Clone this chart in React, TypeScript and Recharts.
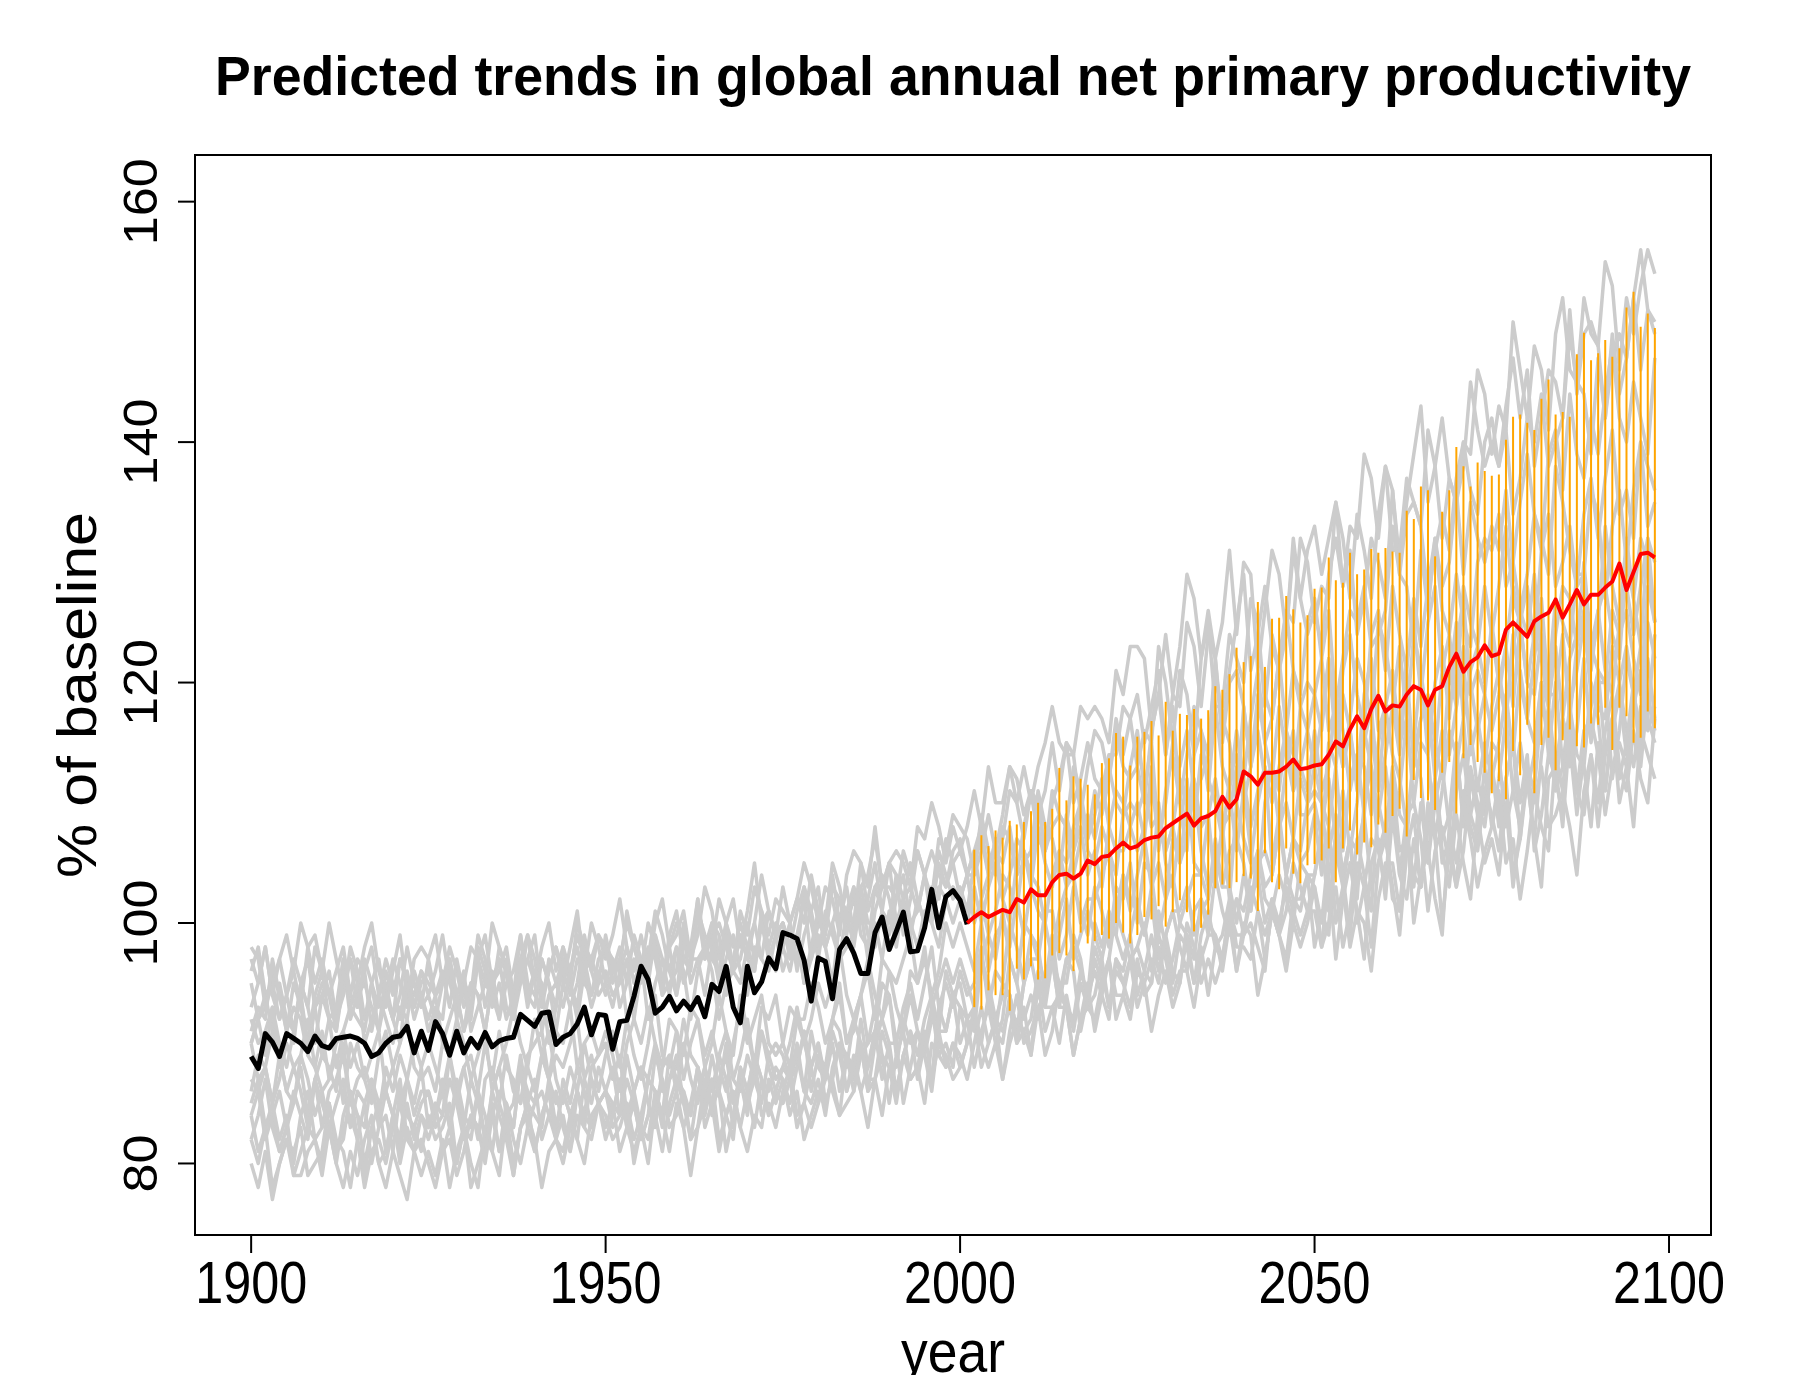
import React from 'react';
import { LineChart, Line, XAxis, YAxis, ErrorBar, ReferenceArea } from 'recharts';

// ---- data -----------------------------------------------------------------
const FIRST_YEAR = 1900;
const LAST_YEAR = 2098;
const xTicks = [1900, 1950, 2000, 2050, 2100];
const yTicks = [80, 100, 120, 140, 160];

// observed series, 1900-2001
const observed = [
  88.9, 87.9, 90.8, 90.1, 88.9, 90.8, 90.4, 90.0, 89.3, 90.6,
  89.8, 89.6, 90.4, 90.5, 90.6, 90.4, 90.0, 88.9, 89.2, 90.0,
  90.5, 90.6, 91.4, 89.2, 91.0, 89.4, 91.8, 90.8, 89.0, 91.0,
  89.2, 90.4, 89.6, 90.9, 89.7, 90.2, 90.4, 90.5, 92.4, 91.9,
  91.4, 92.5, 92.6, 89.9, 90.5, 90.8, 91.6, 93.0, 90.7, 92.4,
  92.3, 89.5, 91.8, 91.9, 93.9, 96.4, 95.3, 92.5, 93.0, 93.9,
  92.7, 93.5, 92.8, 93.8, 92.2, 94.9, 94.3, 96.4, 93.0, 91.7,
  96.4, 94.2, 95.1, 97.1, 96.2, 99.2, 99.0, 98.7, 96.9, 93.5,
  97.1, 96.8, 93.7, 97.8, 98.7, 97.5, 95.8, 95.8, 99.2, 100.5,
  97.8, 99.3, 100.9, 97.6, 97.7, 99.6, 102.8, 99.6, 102.2, 102.7,
  101.9, 99.9,
];

// projected ensemble mean, 2001-2098
const projectedMean = [
  100.0, 100.5, 100.9, 100.5, 100.8, 101.1, 100.9, 102.0, 101.7,
  102.8, 102.3, 102.3, 103.4, 104.0, 104.1, 103.7, 104.1, 105.2, 104.9,
  105.5, 105.6, 106.2, 106.7, 106.2, 106.4, 106.9, 107.1, 107.2, 107.9,
  108.3, 108.7, 109.1, 108.1, 108.7, 108.9, 109.3, 110.5, 109.6, 110.3,
  112.6, 112.2, 111.5, 112.5, 112.5, 112.6, 113.0, 113.6, 112.8, 112.9,
  113.1, 113.2, 114.0, 115.1, 114.7, 116.1, 117.2, 116.2, 117.8, 118.9,
  117.6, 118.1, 118.0, 119.0, 119.7, 119.4, 118.1, 119.4, 119.7, 121.3,
  122.4, 120.9, 121.7, 122.1, 123.1, 122.2, 122.4, 124.4, 125.0, 124.4,
  123.8, 125.1, 125.5, 125.8, 126.9, 125.4, 126.5, 127.7, 126.5, 127.3,
  127.3, 127.9, 128.4, 129.9, 127.7, 129.2, 130.7, 130.8, 130.4,
];

// projected range, 2002-2098
const rangeHigh = [
  106.1, 107.3, 106.4, 107.7, 107.1, 108.5, 108.2, 108.4,
  109.3, 110.0, 108.4, 109.5, 112.9, 110.2, 112.2, 112.0, 111.5, 110.7,
  113.3, 113.7, 115.8, 115.5, 113.1, 115.5, 115.9, 116.8, 115.6, 118.4,
  116.0, 117.4, 117.3, 117.8, 117.0, 117.7, 119.7, 119.4, 120.7, 122.9,
  121.7, 122.2, 126.7, 121.3, 125.3, 125.4, 127.2, 126.1, 125.0, 125.6,
  127.8, 127.9, 130.4, 128.5, 128.3, 130.8, 129.0, 129.4, 131.1, 130.8,
  131.2, 130.9, 130.8, 134.3, 133.6, 136.3, 136.0, 130.5, 134.2, 136.0,
  139.6, 138.0, 136.3, 138.3, 137.6, 137.2, 137.3, 140.2, 142.1, 142.3,
  141.6, 141.0, 143.6, 145.2, 142.3, 142.5, 142.1, 147.3, 149.1, 146.8,
  147.4, 148.5, 147.1, 147.8, 151.2, 152.5, 149.6, 150.7, 149.5,
];
const rangeLow = [
  93.0, 92.8, 94.4, 94.0, 94.0, 92.7, 96.2, 95.3,
  96.4, 95.3, 95.4, 97.3, 97.5, 97.3, 96.0, 99.2, 98.3, 98.5,
  99.0, 98.7, 100.0, 99.2, 98.3, 99.0, 100.5, 100.3, 101.4, 99.7,
  100.9, 101.9, 100.9, 99.3, 99.6, 100.7, 102.9, 103.2, 102.9, 103.4,
  103.9, 103.7, 101.0, 105.8, 103.4, 102.8, 106.2, 104.1, 103.3, 104.8,
  104.9, 105.2, 106.2, 103.4, 106.2, 107.7, 105.7, 106.7, 106.3, 108.2,
  107.5, 108.9, 109.5, 107.2, 111.9, 110.4, 110.2, 109.4, 112.5, 113.4,
  109.1, 113.7, 114.8, 113.4, 112.5, 110.8, 111.8, 110.3, 114.3, 112.3,
  116.5, 110.8, 114.8, 115.4, 112.7, 115.2, 116.1, 114.7, 114.6, 116.6,
  116.5, 117.9, 114.4, 117.9, 117.2, 115.0, 115.4, 117.6, 116.2,
];

// individual model runs, 1900-2098
const run01 = [
  97,95,98,94,97,99,96,93,98,99,96,100,97,94,97,95,98,100,96,94,97,95,93,97,98,
  97,99,95,96,93,95,98,97,95,100,98,96,93,97,99,95,98,100,96,98,95,100,98,97,99,
  97,99,102,98,96,99,96,100,102,98,99,101,97,99,103,101,97,100,102,98,101,105,100,101,99,
  103,100,102,105,103,100,103,102,99,104,106,105,103,108,103,105,106,105,103,108,107,110,108,105,108,
  106,108,111,108,113,110,110,113,110,113,110,113,115,118,115,114,114,118,117,118,117,115,121,119,123,
  123,122,116,119,124,119,123,129,127,122,126,122,125,131,124,130,129,121,126,131,129,124,132,127,131,
  133,129,132,135,128,133,132,139,137,132,138,136,130,135,139,143,135,138,142,137,135,140,139,146,144,
  139,143,141,150,146,142,148,146,141,149,152,146,145,152,149,148,155,153,146,152,149,153,156,154,
];
const run02 = [
  96,98,94,95,92,94,97,95,93,98,96,94,91,95,97,93,96,98,94,95,92,97,95,94,96,
  94,96,99,95,93,95,92,97,99,95,96,98,94,95,99,97,93,96,98,95,98,101,96,97,95,
  99,96,97,100,98,96,98,97,94,98,100,99,97,102,97,99,100,98,96,101,99,103,101,98,100,
  98,100,102,100,104,101,100,104,100,103,99,103,104,107,103,103,102,106,104,106,104,102,107,106,109,
  108,107,104,106,109,106,109,113,112,109,111,109,111,115,111,115,114,109,113,116,115,112,117,114,117,
  119,115,118,121,114,119,118,125,123,118,124,122,116,121,125,129,121,124,128,123,121,126,125,132,130,
  125,128,127,135,132,127,134,131,127,134,138,131,131,137,135,133,141,138,132,137,135,138,145,141,138,
  140,138,143,147,142,146,138,142,146,145,142,151,144,149,150,148,142,147,149,147,152,156,151,150,
];
const run03 = [
  93,95,98,94,92,94,91,95,97,93,94,96,92,94,98,96,92,95,97,93,96,99,94,95,93,
  97,94,95,98,96,93,95,94,91,95,97,96,94,99,94,96,97,95,93,98,96,99,97,94,96,
  94,96,98,95,99,97,96,99,95,98,94,97,98,102,98,97,96,100,98,99,97,96,101,99,102,
  101,100,96,99,101,98,100,105,103,100,102,100,102,105,101,105,104,99,102,106,104,101,105,103,105,
  106,104,106,108,104,107,107,111,110,107,111,110,106,110,112,115,110,112,115,112,111,114,114,118,117,
  113,116,115,123,120,115,121,119,114,122,125,118,118,124,122,120,127,125,118,124,121,124,131,127,124,
  126,123,129,132,128,131,124,127,132,130,127,136,129,134,135,133,127,131,134,131,137,140,136,134,140,
  142,138,141,134,137,142,140,144,138,140,142,149,145,144,139,147,142,149,144,147,152,146,151,149,
];
const run04 = [
  95,92,93,96,94,91,93,92,89,93,95,94,92,97,92,94,95,93,91,96,94,97,95,92,94,
  92,94,96,93,97,94,93,97,93,96,92,95,96,99,95,94,93,97,95,97,95,93,98,96,99,
  98,97,93,95,97,95,97,101,99,96,98,95,97,101,97,100,99,94,97,100,98,96,100,97,99,
  100,98,99,102,97,100,99,103,102,99,103,101,97,101,103,105,100,102,105,102,100,103,102,107,105,
  102,104,104,109,106,104,108,107,104,108,111,107,106,111,109,108,113,111,107,111,109,112,116,113,112,
  113,110,116,119,114,118,110,114,118,116,114,122,115,120,121,118,113,117,119,117,122,126,121,119,125,
  127,122,126,118,122,126,125,128,123,124,126,133,129,128,123,131,126,132,128,130,136,129,135,132,130,
  133,131,136,130,135,139,134,131,139,141,136,144,139,137,142,139,144,148,142,140,145,142,139,147,
];
const run05 = [
  90,92,94,91,95,92,91,94,90,93,89,92,93,97,93,92,91,95,93,94,92,90,95,93,96,
  95,94,90,92,94,91,93,98,96,93,95,92,94,97,93,96,95,90,93,97,95,92,96,93,95,
  96,94,95,97,92,96,95,99,97,94,98,96,92,96,98,100,95,97,99,96,94,98,97,101,99,
  96,98,97,103,100,97,101,99,97,101,103,99,98,103,101,100,104,102,99,102,100,102,106,104,102,
  103,101,105,107,104,107,102,104,107,106,104,110,106,108,109,108,104,107,109,107,110,113,110,109,113,
  116,111,115,107,110,115,113,116,111,112,114,121,117,115,110,118,113,119,115,117,122,116,121,118,116,
  119,116,122,115,121,124,119,116,124,126,121,128,124,121,127,123,128,132,126,124,129,125,123,130,132,
  131,134,128,130,126,129,134,132,129,138,135,131,128,134,137,132,137,141,134,136,132,140,138,136,
];
const run06 = [
  98,97,93,95,97,94,96,100,98,95,97,94,96,98,94,97,96,91,94,97,95,92,96,93,95,
  96,94,95,97,92,95,94,99,97,94,98,96,92,95,97,99,94,96,98,96,94,97,96,100,98,
  95,97,96,101,98,96,100,98,95,99,101,97,96,101,99,98,102,100,96,99,97,100,104,101,99,
  100,98,101,103,101,103,98,100,102,101,100,105,101,103,104,102,99,102,103,101,104,106,104,103,106,
  107,104,106,102,104,106,105,108,104,105,106,111,108,107,104,109,106,110,107,109,112,108,111,110,108,
  110,107,113,106,111,114,110,106,114,116,111,118,113,111,116,112,117,121,115,112,118,114,111,118,120,
  119,122,116,118,113,117,122,120,117,125,123,119,115,122,125,119,125,128,121,124,119,128,125,123,128,
  124,128,133,127,125,128,123,131,134,128,130,133,128,129,136,134,127,133,136,130,136,140,133,135,
];
const run07 = [
  92,90,91,93,88,91,90,95,93,90,94,92,88,91,93,95,90,92,94,92,90,93,92,96,94,
  91,93,92,97,94,91,95,94,91,95,97,93,92,96,94,93,97,95,91,95,93,95,99,96,94,
  95,93,96,98,95,97,92,95,97,96,94,99,95,97,98,96,92,95,96,95,98,100,97,96,99,
  100,97,99,95,97,99,98,100,97,98,99,103,100,100,97,101,98,102,100,101,104,100,103,102,100,
  102,100,103,100,103,105,102,100,105,106,103,108,105,103,106,105,108,110,106,105,108,106,104,109,110,
  109,111,108,109,106,108,112,110,108,114,112,110,107,112,114,110,113,116,112,113,111,116,114,113,116,
  113,117,122,116,113,116,112,119,122,116,118,121,115,117,124,121,114,120,123,117,123,127,119,121,119,
  125,120,123,128,125,120,124,122,118,124,128,127,123,130,123,126,128,124,122,130,127,132,130,125,
];
const run08 = [
  91,93,92,97,94,91,95,93,90,94,96,92,91,96,94,93,97,95,91,94,92,94,98,95,93,
  94,92,95,97,94,96,91,93,95,94,92,97,93,96,97,95,91,94,95,93,96,98,95,94,97,
  98,95,97,92,94,97,96,98,94,95,96,100,97,97,94,98,95,99,96,97,100,97,100,98,96,
  98,96,99,95,98,101,98,95,100,101,98,102,99,98,101,99,102,104,100,98,101,100,98,102,103,
  102,104,100,102,99,101,104,103,101,106,104,103,100,104,106,103,106,108,104,106,103,108,106,106,108,
  106,108,111,108,106,108,105,110,112,108,109,112,108,109,113,112,108,111,113,110,113,116,111,113,111,
  116,111,113,119,116,111,114,113,109,115,118,118,114,121,113,117,119,115,112,121,118,123,120,116,119,
  116,119,123,118,125,120,119,124,118,123,117,122,124,128,123,121,120,126,124,126,122,119,128,125,
];
const run09 = [
  90,87,88,91,89,86,88,86,83,87,89,88,86,90,85,87,88,86,84,88,86,89,87,84,86,
  86,84,87,83,86,88,85,82,87,88,85,89,86,85,88,86,89,91,87,85,88,86,84,88,89,
  90,87,89,84,86,88,87,90,86,87,88,92,89,88,85,89,86,90,87,89,92,88,91,89,87,
  88,90,93,90,88,90,87,92,94,90,91,94,90,91,95,94,90,93,95,92,95,98,93,95,93,
  96,94,95,98,93,96,95,100,98,95,99,98,94,97,99,102,97,99,101,99,97,100,99,104,102,
  101,99,103,105,102,104,100,102,104,104,102,107,103,106,107,105,101,105,106,104,108,110,107,106,110,
  111,110,104,107,111,106,110,116,113,109,113,108,111,117,110,115,114,107,111,116,114,109,116,111,115,
  112,115,119,114,121,117,115,120,114,120,113,118,121,125,119,118,117,123,120,123,119,116,125,122,
];
const run10 = [
  84,86,88,85,89,86,85,88,84,87,83,86,87,89,85,84,83,87,85,86,84,82,87,85,88,
  83,85,84,89,86,83,87,85,82,86,88,84,83,88,86,85,89,87,83,86,84,86,90,87,85,
  86,84,87,83,86,88,85,83,88,89,86,90,87,85,88,86,89,91,87,86,89,87,85,89,90,
  89,87,88,91,86,89,88,92,91,88,92,90,86,90,92,94,89,91,94,91,89,92,91,96,94,
  95,92,93,97,95,92,94,94,91,95,97,97,95,99,94,97,98,96,94,100,98,101,99,97,99,
  102,99,102,97,99,101,101,103,99,101,102,106,103,103,100,104,101,106,103,104,108,104,107,105,104,
  104,108,112,107,104,107,102,110,113,106,108,112,106,107,114,112,105,110,113,108,113,117,109,112,109,
  115,114,108,111,115,111,114,120,118,113,117,113,116,122,115,120,120,112,116,122,119,114,122,117,
];
const run11 = [
  87,86,82,84,86,83,85,89,87,84,86,83,85,87,83,86,85,80,83,86,84,81,85,82,84,
  82,84,86,83,87,84,83,86,82,85,81,84,85,89,85,84,83,87,85,86,84,82,87,85,88,
  86,88,84,85,82,84,87,86,84,89,87,85,82,86,88,84,87,89,85,87,84,89,87,86,88,
  87,85,88,91,88,90,85,87,90,89,87,92,88,91,92,90,86,89,91,89,92,94,91,91,94,
  90,92,91,97,94,91,95,94,91,95,97,94,93,97,95,95,99,97,93,97,95,97,101,99,97,
  98,96,99,96,99,101,98,96,101,102,99,104,101,99,102,101,104,106,102,101,104,102,100,105,106,
  109,104,108,100,103,107,106,109,103,105,107,113,109,108,103,110,105,112,107,109,115,108,113,110,108,
  113,109,112,115,107,113,111,118,116,111,117,115,109,114,118,121,114,117,120,116,113,118,117,124,
];
const run12 = [
  85,87,83,84,81,83,86,84,82,87,85,83,80,84,86,82,85,87,83,84,81,86,84,83,85,
  86,83,84,87,85,82,84,83,80,84,86,85,83,88,83,85,86,84,82,87,85,88,86,83,85,
  83,85,84,89,86,83,87,86,83,87,89,85,84,88,86,85,89,87,83,87,85,87,91,88,86,
  85,87,89,86,91,88,87,90,86,89,86,89,90,93,89,88,88,92,90,91,89,87,93,91,94,
  93,92,88,91,93,90,92,97,95,92,94,92,94,97,93,97,96,91,94,98,96,93,97,95,97,
  98,100,96,98,95,97,100,99,97,102,100,99,96,100,102,99,102,104,100,102,99,104,102,102,104,
  103,100,106,109,104,107,100,103,107,106,103,111,104,109,110,107,101,106,108,105,111,114,109,107,113,
  108,112,117,111,108,112,107,114,118,111,113,117,111,113,120,117,111,116,119,114,119,123,116,118,
];
const run13 = [
  82,84,87,83,81,83,80,84,86,82,83,85,81,82,86,84,80,83,85,81,84,87,82,83,81,
  84,82,83,85,80,83,82,86,84,81,85,83,79,83,85,87,82,84,86,83,81,84,83,87,85,
  86,83,84,87,85,82,84,84,81,85,87,86,84,88,83,85,86,84,82,88,86,89,87,84,86,
  88,87,83,85,88,85,87,91,89,86,89,86,88,91,87,90,90,85,88,91,89,86,91,88,90,
  88,90,92,90,94,91,90,94,90,93,89,93,94,97,93,93,92,96,94,96,94,92,97,96,99,
  94,96,95,101,98,95,99,98,95,99,101,98,97,101,99,99,103,101,97,101,99,101,105,103,101,
  104,107,101,103,98,101,107,104,101,110,107,103,99,106,109,103,108,112,105,107,103,111,108,106,111,
  109,106,112,115,110,114,106,109,114,112,109,118,111,116,117,114,109,113,115,113,118,121,117,115,
];
const run14 = [
  82,80,83,85,82,84,79,81,83,82,80,85,81,83,84,82,78,81,82,80,83,85,82,81,84,
  83,85,81,82,79,81,84,83,81,86,84,82,79,83,85,81,84,86,82,84,81,86,84,83,85,
  86,85,81,83,85,82,84,89,87,84,86,83,85,88,84,87,86,81,84,88,86,83,87,84,86,
  85,87,90,86,85,87,84,88,90,86,88,90,86,87,91,89,86,89,91,87,90,93,89,90,88,
  93,90,92,88,90,92,91,93,90,91,92,96,93,93,90,94,91,95,93,94,97,93,96,95,93,
  97,94,95,99,97,94,96,96,93,97,99,99,97,101,96,99,100,98,96,102,100,103,101,99,101,
  101,98,104,97,102,105,101,97,105,107,102,109,104,102,107,103,108,112,106,103,109,105,102,109,111,
  113,108,112,104,107,112,110,113,108,109,111,118,114,113,108,115,111,117,112,115,120,113,119,116,
];
const run15 = [
  84,81,83,78,80,82,81,83,79,80,81,85,82,81,78,82,79,83,80,81,84,80,83,81,79,
  81,79,82,78,81,83,80,78,83,84,81,85,82,80,83,81,84,86,82,81,84,82,80,84,85,
  82,84,87,83,81,83,80,85,87,83,84,86,82,83,87,85,81,84,86,83,86,89,84,85,83,
  86,88,84,85,83,85,88,86,84,89,88,86,83,87,89,85,89,91,87,88,85,90,89,88,90,
  89,87,90,93,90,92,87,90,92,91,89,95,91,93,94,93,89,92,93,92,95,97,94,94,97,
  93,95,97,95,99,96,95,99,95,98,94,98,99,102,98,98,97,101,99,101,99,97,102,101,104,
  98,101,99,108,104,99,105,103,98,105,108,102,101,107,104,103,110,107,100,106,103,106,112,109,105,
  107,104,110,103,108,112,107,103,112,113,108,116,111,109,114,110,116,119,113,111,116,112,110,117,
];
const run16 = [
  80,78,81,77,80,82,79,79,81,82,79,83,80,78,81,79,82,84,80,78,81,79,77,81,82,
  80,78,81,83,80,83,78,80,82,81,79,84,80,83,84,82,78,81,82,80,83,86,83,82,85,
  84,82,83,85,80,83,82,86,84,81,85,83,79,83,85,87,82,84,86,83,81,84,83,87,85,
  87,84,86,82,84,86,85,87,84,85,86,90,87,87,84,88,85,89,87,88,91,87,90,89,87,
  88,90,93,90,88,90,87,91,94,90,91,93,89,91,95,93,89,92,95,91,94,97,92,94,92,
  96,95,91,94,96,93,95,100,98,95,97,95,97,100,96,100,99,94,97,101,99,96,100,98,100,
  103,98,100,106,103,98,101,100,96,102,105,105,101,108,100,104,106,102,99,108,105,110,107,103,106,
  108,111,105,107,102,106,111,108,106,114,111,108,104,111,114,108,114,117,110,113,108,116,114,112,
];
const run17 = [
  90,92,89,93,90,88,91,94,89,88,91,87,90,91,88,90,87,85,89,91,88,90,92,88,87,
  88,86,90,89,92,90,87,89,91,86,88,90,93,90,88,92,89,87,91,90,93,88,90,91,89,
  91,89,86,90,92,90,93,90,88,92,91,89,93,92,88,90,94,91,89,94,91,88,93,92,94,
  90,93,92,90,92,95,93,95,98,94,92,94,96,92,97,96,95,97,99,95,97,94,96,100,98,
  100,98,96,100,96,99,100,98,102,99,103,101,100,97,101,103,104,100,102,102,104,106,101,104,101,
  104,107,103,110,105,103,108,112,105,104,109,103,108,111,106,111,106,103,110,113,108,113,116,109,109,
  110,107,115,113,119,116,111,115,118,111,114,118,123,117,115,121,116,114,121,120,125,117,121,123,120,
  124,120,117,123,126,124,129,122,120,127,125,123,129,129,122,125,133,128,125,132,127,123,132,130,
];
const run18 = [
  86,89,88,85,87,90,88,89,92,88,86,87,89,85,90,88,87,89,91,86,88,85,87,90,88,
  90,88,86,89,85,88,89,86,90,87,91,88,87,85,89,90,91,87,89,88,90,92,87,89,86,
  89,91,88,92,89,87,90,94,89,88,91,87,90,92,89,91,88,86,90,93,90,92,94,90,89,
  90,88,92,92,95,93,90,92,95,90,92,94,97,94,92,96,93,91,96,95,98,93,95,97,95,
  97,95,93,97,99,97,101,97,95,100,99,97,101,101,97,99,103,101,99,103,101,98,103,102,105,
  100,105,104,99,102,107,105,107,111,106,103,104,108,102,110,107,105,110,113,105,109,104,107,112,110,
  113,110,108,113,106,112,114,109,116,111,118,114,112,108,114,117,118,112,116,114,118,122,114,117,113,
  118,121,117,124,120,117,122,127,119,119,124,117,123,126,121,126,121,119,125,128,124,128,132,125,
];

const ensembleRuns = [
  run01, run02, run03, run04, run05, run06, run07, run08, run09,
  run10, run11, run12, run13, run14, run15, run16, run17, run18,
];

// ---- table for recharts ---------------------------------------------------
const MEAN_START = 2001;
const RANGE_START = 2002;

const rows: Record<string, any>[] = [];
for (let year = FIRST_YEAR; year <= LAST_YEAR; year++) {
  const i = year - FIRST_YEAR;
  const row: Record<string, any> = { year };
  ensembleRuns.forEach((run, k) => {
    row['run' + k] = run[i];
  });
  if (i < observed.length) row.observed = observed[i];
  const m = year - MEAN_START;
  if (m >= 0 && m < projectedMean.length) row.mean = projectedMean[m];
  const r = year - RANGE_START;
  if (r >= 0 && r < rangeLow.length) {
    row.band = projectedMean[m];
    row.spread = [projectedMean[m] - rangeLow[r], rangeHigh[r] - projectedMean[m]];
  }
  rows.push(row);
}

// ---- layout ---------------------------------------------------------------
const W = 1797;
const H = 1375;
const PLOT_LEFT = 195;
const PLOT_TOP = 155;
const PLOT_RIGHT = 1711;
const PLOT_BOTTOM = 1235;
const Y_AXIS_W = 100;
const X_AXIS_H = 100;
const X_DOMAIN: [number, number] = [1892.08, 2105.92];
const Y_DOMAIN: [number, number] = [74.05, 163.88];
const FONT = '"Liberation Sans", Arial, Helvetica, sans-serif';

const XTick = ({ x, y, payload }: any) => {
  const label = String(payload.value);
  return (
    <text
      x={x}
      y={y}
      dy={48}
      textAnchor="middle"
      fontFamily={FONT}
      fontSize={60}
      fill="#000"
      textLength={label.length * 28}
      lengthAdjust="spacingAndGlyphs"
    >
      {label}
    </text>
  );
};

const YTick = ({ x, y, payload }: any) => {
  const label = String(payload.value);
  return (
    <text
      transform={`translate(${x - 19},${y}) rotate(-90)`}
      textAnchor="middle"
      fontFamily={FONT}
      fontSize={49}
      fill="#000"
      textLength={label.length * 29}
      lengthAdjust="spacingAndGlyphs"
    >
      {label}
    </text>
  );
};

export default function App() {
  return (
    <div style={{ position: 'absolute', left: 0, top: 0, width: W, height: H, background: '#fff' }}>
      <LineChart
        width={W}
        height={H}
        data={rows}
        margin={{
          top: PLOT_TOP,
          right: W - PLOT_RIGHT,
          bottom: H - PLOT_BOTTOM - X_AXIS_H,
          left: PLOT_LEFT - Y_AXIS_W,
        }}
      >
        <XAxis
          type="number"
          dataKey="year"
          domain={X_DOMAIN}
          allowDataOverflow
          ticks={xTicks}
          interval={0}
          height={X_AXIS_H}
          tickSize={18}
          axisLine={false}
          tickLine={{ stroke: '#000', strokeWidth: 2 }}
          tick={<XTick />}
        />
        <YAxis
          type="number"
          domain={Y_DOMAIN}
          allowDataOverflow
          ticks={yTicks}
          interval={0}
          width={Y_AXIS_W}
          tickSize={17}
          axisLine={false}
          tickLine={{ stroke: '#000', strokeWidth: 2 }}
          tick={<YTick />}
        />
        {ensembleRuns.map((_, k) => (
          <Line
            key={k}
            dataKey={'run' + k}
            stroke="#CCCCCC"
            strokeWidth={3.5}
            strokeLinejoin="round"
            dot={false}
            activeDot={false}
            isAnimationActive={false}
          />
        ))}
        <Line
          dataKey="band"
          stroke="none"
          dot={false}
          activeDot={false}
          isAnimationActive={false}
        >
          <ErrorBar
            dataKey="spread"
            direction="y"
            width={0}
            stroke="#FFA500"
            strokeWidth={2}
            isAnimationActive={false}
          />
        </Line>
        <Line
          dataKey="observed"
          stroke="#000"
          strokeWidth={5}
          strokeLinejoin="round"
          dot={false}
          activeDot={false}
          isAnimationActive={false}
        />
        <Line
          dataKey="mean"
          stroke="#FF0000"
          strokeWidth={4}
          strokeLinejoin="round"
          dot={false}
          activeDot={false}
          isAnimationActive={false}
        />
        <ReferenceArea
          x1={X_DOMAIN[0]}
          x2={X_DOMAIN[1]}
          y1={Y_DOMAIN[0]}
          y2={Y_DOMAIN[1]}
          fill="none"
          stroke="#000"
          strokeWidth={2}
          ifOverflow="visible"
        />
      </LineChart>
      <svg
        width={W}
        height={H}
        style={{ position: 'absolute', left: 0, top: 0, pointerEvents: 'none' }}
      >
        <text
          x={(PLOT_LEFT + PLOT_RIGHT) / 2}
          y={95}
          textAnchor="middle"
          fontFamily={FONT}
          fontWeight="bold"
          fontSize={56}
          fill="#000"
          textLength={1476}
          lengthAdjust="spacingAndGlyphs"
        >
          Predicted trends in global annual net primary productivity
        </text>
        <text
          x={(PLOT_LEFT + PLOT_RIGHT) / 2}
          y={1372}
          textAnchor="middle"
          fontFamily={FONT}
          fontSize={60}
          fill="#000"
          textLength={104}
          lengthAdjust="spacingAndGlyphs"
        >
          year
        </text>
        <text
          transform={`translate(96,${(PLOT_TOP + PLOT_BOTTOM) / 2}) rotate(-90)`}
          textAnchor="middle"
          fontFamily={FONT}
          fontSize={56}
          fill="#000"
          textLength={366}
          lengthAdjust="spacingAndGlyphs"
        >
          % of baseline
        </text>
      </svg>
    </div>
  );
}
